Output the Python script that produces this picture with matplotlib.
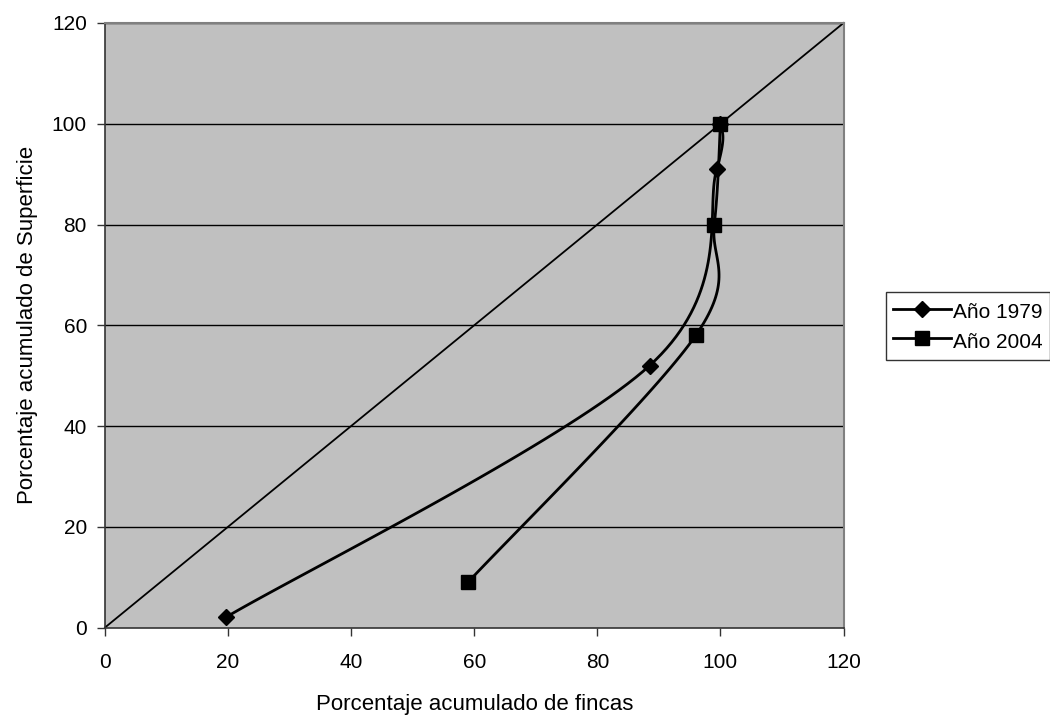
import numpy as np
import matplotlib.pyplot as plt

plt.rcParams['font.family'] = ['Liberation Sans', 'DejaVu Sans']

# data
x_1979 = [19.6, 88.5, 99.4, 100]
y_1979 = [2, 52, 91, 100]
x_2004 = [59, 96, 99, 100]
y_2004 = [9, 58, 80, 100]
x_equal = [0, 120]
y_equal = [0, 120]


def smooth(xs, ys, n=40):
    """Excel-style smoothed line (Catmull-Rom through the points)"""
    p = np.column_stack([xs, ys]).astype(float)
    out = [p[0]]
    for i in range(len(p) - 1):
        p0 = p[i - 1] if i > 0 else p[i]
        p1, p2 = p[i], p[i + 1]
        p3 = p[i + 2] if i + 2 < len(p) else p[i + 1]
        c1 = p1 + (p2 - p0) / 6
        c2 = p2 - (p3 - p1) / 6
        t = np.linspace(0, 1, n)[1:, None]
        seg = ((1 - t) ** 3 * p1 + 3 * (1 - t) ** 2 * t * c1
               + 3 * (1 - t) * t ** 2 * c2 + t ** 3 * p2)
        out.extend(seg)
    out = np.array(out)
    return out[:, 0], out[:, 1]


fig = plt.figure(figsize=(10.5, 7.19), dpi=100)
ax = fig.add_axes([105 / 1050, 1 - 627.5 / 719, 738.5 / 1050, 604.5 / 719])
ax.set_facecolor('#C0C0C0')

ax.set_xlim(0, 120)
ax.set_ylim(0, 120)
ax.set_xticks(range(0, 121, 20))
ax.set_yticks(range(0, 121, 20))
for yv in range(20, 121, 20):
    ax.axhline(yv, color='black', lw=1, zorder=1)

ax.plot(x_equal, y_equal, color='black', lw=1.3, zorder=2, clip_on=False)

sx, sy = smooth(x_1979, y_1979)
ax.plot(sx, sy, color='black', lw=2, zorder=3)
ax.plot(x_1979, y_1979, linestyle='none', marker='D', color='black', ms=8, zorder=4)

sx, sy = smooth(x_2004, y_2004)
ax.plot(sx, sy, color='black', lw=2, zorder=3)
ax.plot(x_2004, y_2004, linestyle='none', marker='s', color='black', ms=10, zorder=4)

# legend handles
h1, = ax.plot([], [], color='black', lw=2, marker='D', ms=8, label='Año 1979')
h2, = ax.plot([], [], color='black', lw=2, marker='s', ms=10, label='Año 2004')
leg = fig.legend(handles=[h1, h2], loc='upper left', bbox_to_anchor=(886 / 1050, 1 - 292 / 719),
                 frameon=True, fancybox=False, edgecolor='black', fontsize=15,
                 handlelength=2.75, handleheight=1.4, handletextpad=0.1, borderpad=0.35,
                 labelspacing=0.25, borderaxespad=0)
leg.get_frame().set_linewidth(1)

for side in ['top', 'right']:
    ax.spines[side].set_color('#808080')
    ax.spines[side].set_linewidth(1.5)
for side in ['left', 'bottom']:
    ax.spines[side].set_color('#333333')
    ax.spines[side].set_linewidth(1.2)

ax.tick_params(direction='out', length=6, width=1, color='#333333', labelsize=15)
ax.tick_params(axis='x', pad=12)
ax.tick_params(axis='y', pad=7)
ax.set_xlabel('Porcentaje acumulado de fincas', fontsize=16, labelpad=16)
ax.set_ylabel('Porcentaje acumulado de Superficie', fontsize=16, labelpad=10)

fig.savefig('out.png', dpi=100)
